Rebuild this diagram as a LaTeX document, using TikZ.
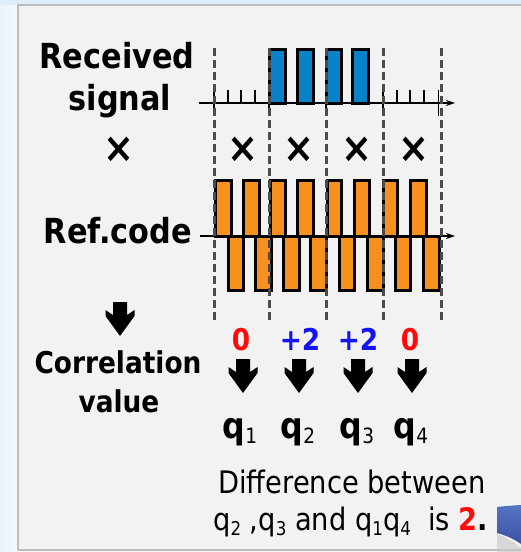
\documentclass[tikz,border=0pt]{standalone}
\usepackage{fontspec}
\setmainfont{DejaVu Sans}[FakeStretch=0.88]
\usetikzlibrary{arrows.meta}
\definecolor{bgblue}{HTML}{DDEDF9}
\definecolor{bglight}{HTML}{F3F8FD}
\definecolor{panelfill}{HTML}{F2F2F2}
\definecolor{panelline}{HTML}{BDBDBD}
\definecolor{sigblue}{HTML}{0882C8}
\definecolor{reforange}{HTML}{F7901E}
\definecolor{dashgray}{HTML}{4A4A4A}
\definecolor{valred}{HTML}{FF0A0A}
\definecolor{valblue}{HTML}{1414F5}
\definecolor{curltop}{HTML}{5674C4}
\definecolor{curlbot}{HTML}{3A53A2}
\newcommand\qwith[1]{q\raisebox{-5pt}{\fontsize{21}{21}\selectfont\mdseries #1}}
\newcommand\qsmall[1]{q\raisebox{-5pt}{\fontsize{19}{19}\selectfont #1}}
\tikzset{
  bigtext/.style={font=\fontsize{34.5}{40}\selectfont\bfseries, anchor=base, inner sep=0pt},
  midtext/.style={font=\fontsize{30}{36}\selectfont\bfseries, anchor=base, inner sep=0pt},
  qtext/.style={font=\fontsize{36}{40}\selectfont\bfseries, anchor=base, inner sep=0pt},
  plaintext/.style={font=\fontsize{31}{36}\selectfont, anchor=base, inner sep=0pt},
  valtext/.style={font=\fontsize{30}{36}\selectfont\bfseries, anchor=base, inner sep=0pt},
  timestext/.style={font=\fontsize{42}{44}\selectfont\bfseries, anchor=center, inner sep=0pt},
  sigpulse/.style={draw=black, fill=sigblue, line width=3pt},
  refpulse/.style={draw=black, fill=reforange, line width=3pt},
  divline/.style={draw=dashgray, line width=3pt, dash pattern=on 8pt off 4pt},
  axisline/.style={draw=black, line width=1.2pt, -{Stealth[length=9pt,width=6pt]}},
  tickline/.style={draw=black, line width=1.2pt},
  heavyarrow/.pic={\fill[black] (-7,0) -- (7,0) -- (7,13) -- (14.5,8) -- (14.5,14) -- (0,34) -- (-14.5,14) -- (-14.5,8) -- (-7,13) -- cycle;}
}
\begin{document}
\begin{tikzpicture}[x=1pt,y=-1pt]
\useasboundingbox (0,0) rectangle (521,552);
% background and panel
\fill[bgblue] (0,0) rectangle (521,552);
\shade[left color=bglight!60!bgblue, right color=bglight] (0,5) rectangle (17,552);
\fill[panelfill] (18,5) rectangle (521,550);
\draw[panelline, line width=1.2pt] (18,550) -- (18,5) -- (521,5);
\draw[panelline, line width=1.2pt] (18,550) -- (521,550);
\fill[white!85!panelline] (18,550.6) rectangle (521,552);

% left labels
\node[bigtext] (rec) at (117,68) {Received};
\node[bigtext] (sig) at (120,110) {signal};
\node[timestext] (tleft) at (119,150) {×};
\node[bigtext] (ref) at (118,243) {Ref.code};
\pic (aleft) at (120,302) {heavyarrow};
\node[midtext] (corr) at (118,373) {Correlation};
\node[midtext] (val) at (119,412) {value};

% received signal axis and ticks
\coordinate (rsa) at (199,103);
\coordinate (rsb) at (455,103);
\foreach \x in {228,241,255,397,410,424} \draw[tickline] (\x,90) -- (\x,103);
\foreach \x in {214,269,326,383,438.5} \draw[tickline] (\x,90) -- (\x,116);
\draw[axisline] (rsa) -- (rsb);
\foreach \a/\b in {269/285,297/313,326/341,352/368} \draw[sigpulse] (\a,49) rectangle (\b,103);

% reference code
\coordinate (rfa) at (200,236);
\coordinate (rfb) at (455,236);
\draw[axisline] (rfa) -- (rfb);
\foreach \a/\b in {215/231,243/259,270/285,297/313,327/341,354/369,383/397,410/426} \draw[refpulse] (\a,180) rectangle (\b,236);
\foreach \a/\b in {228/243,255/271,283/299,310/326,339/354,367/383,395/410,423/439} \draw[refpulse] (\a,236) rectangle (\b,290);

% dashed dividers
\foreach \x in {214,269,326,383,441} \draw[divline] (\x,48) -- (\x,322);

% multiplication signs
\node[timestext] (t1) at (243,150) {×};
\node[timestext] (t2) at (299,150) {×};
\node[timestext] (t3) at (357,150) {×};
\node[timestext] (t4) at (414,150) {×};

% correlation values
\node[valtext, text=valred] (v1) at (241,350) {0};
\node[valtext, text=valblue] (v2) at (300,350) {+2};
\node[valtext, text=valblue] (v3) at (358,350) {+2};
\node[valtext, text=valred] (v4) at (410,350) {0};

% arrows
\pic (a1) at (243,359) {heavyarrow};
\pic (a2) at (299,359) {heavyarrow};
\pic (a3) at (358,359) {heavyarrow};
\pic (a4) at (412,359) {heavyarrow};

% q labels
\node[qtext] (q1) at (240,438) {\qwith{1}};
\node[qtext] (q2) at (298,438) {\qwith{2}};
\node[qtext] (q3) at (357,438) {\qwith{3}};
\node[qtext] (q4) at (411,438) {\qwith{4}};

% conclusion text
\node[plaintext] (diff) at (352,493) {Difference between};
\node[plaintext, anchor=base west] (concl) at (213,530) {\qsmall{2} ,\qsmall{3} and \qsmall{1}\qsmall{4}\ \ is \textbf{\textcolor{valred}{2}.}};

% blue curl at bottom right
\fill[gray!45, opacity=0.6] (497,534) .. controls (505,537) and (513,541) .. (521,548) -- (521,552) -- (497,552) -- cycle;
\shade[top color=curltop, bottom color=curlbot] (497,507) .. controls (505,506) and (513,505.5) .. (521,505) -- (521,544) .. controls (514,539) and (505,535) .. (497,533) -- cycle;
\end{tikzpicture}
\end{document}
